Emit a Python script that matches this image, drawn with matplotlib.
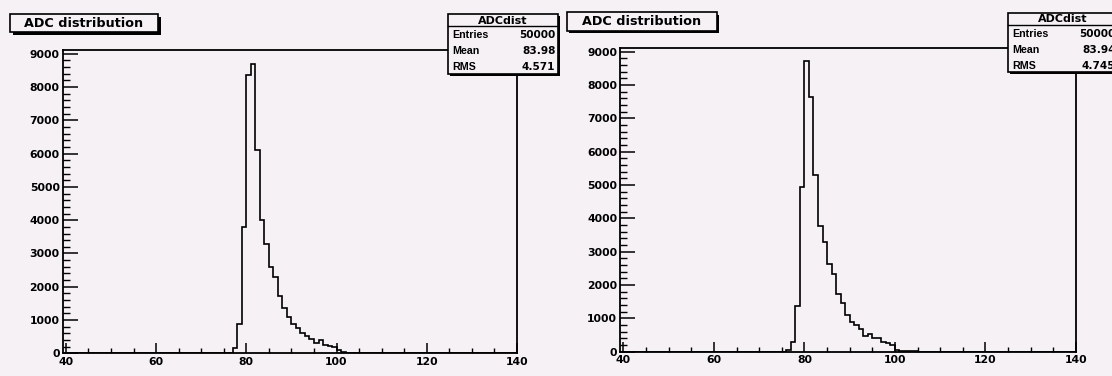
import matplotlib
matplotlib.use("Agg")
import matplotlib.pyplot as plt
from matplotlib.patches import Rectangle
from matplotlib.ticker import MultipleLocator
import numpy as np

# ---------------- data ----------------
x_min, x_max, n_bins = 40, 140, 100
first_bin = 76  # lower edge of the first listed bin; other bins are empty

left_counts = [0, 150, 880, 3800, 8350, 8690, 6120, 4000, 3290, 2600, 2300,
               1720, 1350, 1080, 880, 750, 620, 530, 420, 320, 390, 250, 220,
               200, 90, 40, 20, 15, 15]
right_counts = [50, 280, 1370, 4940, 8720, 7630, 5290, 3780, 3300, 2620, 2330,
                1720, 1470, 1110, 880, 790, 690, 480, 540, 420, 400, 290, 260,
                190, 60, 30, 20, 10, 10]

title_text = "ADC distribution"
stats_name = "ADCdist"
stat_labels = ["Entries", "Mean", "RMS"]
left_stats = ["50000", "83.98", "4.571"]
right_stats = ["50000", "83.94", "4.745"]

x_ticks = [40, 60, 80, 100, 120, 140]
y_ticks = [0, 1000, 2000, 3000, 4000, 5000, 6000, 7000, 8000, 9000]

# ---------------- style ----------------
W, H = 1112, 376
BG = "#f5f1f5"
fig = plt.figure(figsize=(W / 100, H / 100), dpi=100, facecolor=BG)


def fx(x):
    return x / W


def fy(y):
    return 1 - y / H


def full_hist(counts):
    vals = np.zeros(n_bins)
    start = first_bin - x_min
    vals[start:start + len(counts)] = counts
    return vals


edges = np.linspace(x_min, x_max, n_bins + 1)


def make_panel(left, right, top, bottom, counts):
    ax = fig.add_axes([fx(left), fy(bottom), fx(right - left), (bottom - top) / H])
    ax.set_facecolor(BG)
    ax.stairs(full_hist(counts), edges, color="black", linewidth=1.2)
    ax.set_xlim(39.25, 140)
    ax.set_ylim(0, 9115)
    ax.set_xticks(x_ticks)
    ax.set_yticks(y_ticks)
    ax.xaxis.set_minor_locator(MultipleLocator(5))
    ax.yaxis.set_minor_locator(MultipleLocator(200))
    ax.tick_params(axis="y", which="major", direction="in", length=10.5,
                   width=1.1, pad=2, labelsize=7.8)
    ax.tick_params(axis="y", which="minor", direction="in", length=5, width=1.0)
    ax.tick_params(axis="x", which="major", direction="in", length=7,
                   width=1.1, pad=2.5, labelsize=7.8)
    ax.tick_params(axis="x", which="minor", direction="in", length=3.6, width=1.0)
    for lab in ax.get_xticklabels() + ax.get_yticklabels():
        lab.set_fontfamily("DejaVu Sans")
        lab.set_fontweight("bold")
    for sp in ax.spines.values():
        sp.set_linewidth(1.3)
    return ax


def box(x0, y0, x1, y1, shadow=2.5):
    fig.add_artist(Rectangle((fx(x0 + shadow), fy(y1 + shadow)), (x1 - x0) / W,
                             (y1 - y0) / H, transform=fig.transFigure,
                             facecolor="black", edgecolor="black", lw=0))
    fig.add_artist(Rectangle((fx(x0), fy(y1)), (x1 - x0) / W, (y1 - y0) / H,
                             transform=fig.transFigure, facecolor=BG,
                             edgecolor="black", lw=1.2))


def title_box(x0, y0, x1, y1):
    box(x0, y0, x1, y1, shadow=2.5)
    fig.text(fx((x0 + x1) / 2), fy((y0 + y1) / 2 + 0.5), title_text,
             ha="center", va="center", fontsize=9.2, fontweight="bold",
             family="DejaVu Sans")


def stats_box(x0, y0, x1, y1, row_line, rows_y, values):
    box(x0, y0, x1, y1, shadow=2)
    fig.add_artist(plt.Line2D([fx(x0), fx(x1)], [fy(row_line), fy(row_line)],
                              transform=fig.transFigure, color="black", lw=1.0))
    fig.text(fx((x0 + x1) / 2), fy((y0 + row_line) / 2 + 0.5), stats_name,
             ha="center", va="center", fontsize=8.0, fontweight="bold",
             family="DejaVu Sans")
    for lab, val, yy in zip(stat_labels, values, rows_y):
        fig.text(fx(x0 + 4), fy(yy), lab, ha="left", va="center",
                 fontsize=7.7, fontweight="bold", family="Liberation Sans")
        fig.text(fx(x1 - 2.5), fy(yy), val, ha="right", va="center",
                 fontsize=7.6, fontweight="bold", family="DejaVu Sans")


# left panel
make_panel(62.5, 517, 50, 353.3, left_counts)
title_box(10, 14, 158, 32)
stats_box(448, 14, 558, 74, 26, [35, 51.5, 67.5], left_stats)

# right panel
make_panel(620, 1076, 48, 351.7, right_counts)
title_box(566.5, 12, 716.5, 30.5)
stats_box(1008, 13, 1118, 72, 25, [34, 50, 66], right_stats)

fig.savefig("out.png", dpi=100, facecolor=BG)
